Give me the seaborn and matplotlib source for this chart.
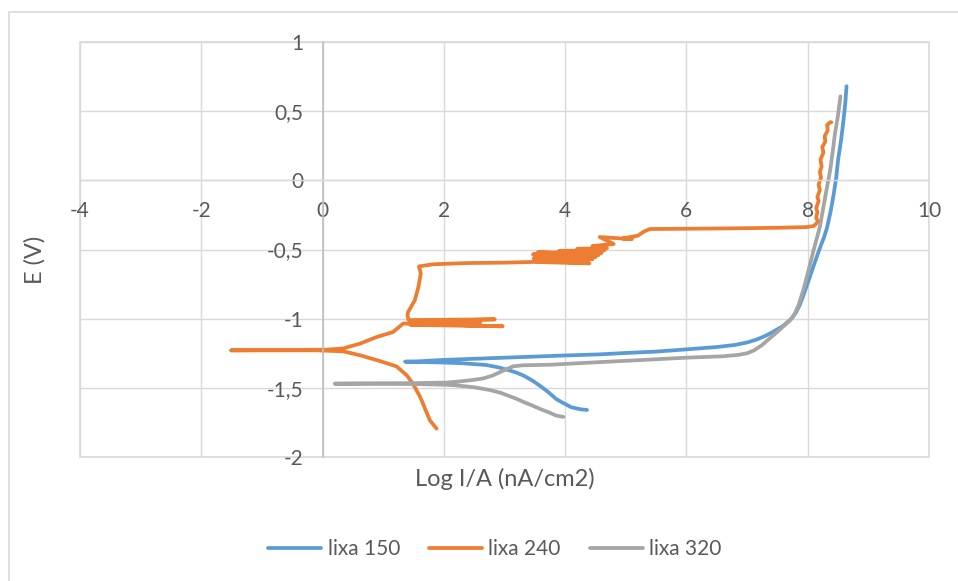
import numpy as np
import pandas as pd
import matplotlib
matplotlib.use("Agg")
import matplotlib.pyplot as plt
import seaborn as sns
from matplotlib.lines import Line2D
from matplotlib.patches import Rectangle
from matplotlib.ticker import FuncFormatter, MultipleLocator

# curves, in sweep order (E rising)
lixa150_logi = [4.36, 4.25, 4.1, 3.97, 3.85, 3.72, 3.6, 3.47, 3.33, 3.2, 3.05, 2.9, 2.7,
                2.3, 1.9, 1.6, 1.36,
                1.6, 2.0, 2.5, 3.0, 3.5, 4.0, 4.57, 5.0, 5.5, 6.0, 6.5, 6.8, 7.0,
                7.15, 7.3, 7.45, 7.6, 7.72, 7.8, 7.87, 7.93, 8.01, 8.09, 8.2, 8.27, 8.32,
                8.38, 8.43, 8.47, 8.5, 8.55, 8.59, 8.62, 8.64]
lixa150_e = [-1.66, -1.655, -1.64, -1.61, -1.58, -1.53, -1.49, -1.45, -1.415, -1.39, -1.37, -1.352, -1.335,
             -1.322, -1.316, -1.313, -1.311,
             -1.308, -1.298, -1.29, -1.282, -1.274, -1.266, -1.258, -1.248, -1.238, -1.222, -1.205, -1.19, -1.172,
             -1.152, -1.125, -1.09, -1.05, -1.005, -0.96, -0.9, -0.83, -0.73, -0.627, -0.49, -0.41, -0.34,
             -0.22, -0.096, 0.02, 0.145, 0.29, 0.434, 0.56, 0.68]

lixa240_logi = [1.88, 1.77, 1.68, 1.61, 1.49, 1.39, 1.22, 0.95, 0.62, 0.34, -0.1, -1.51,
                0.07, 0.34, 0.62, 0.89, 1.16, 1.33,
                2.97, 1.45, 2.6, 1.6, 2.55, 1.5, 2.6, 1.45, 2.84, 1.42, 1.4,
                1.41, 1.52, 1.58, 1.62, 1.59, 1.82, 2.38, 3.0, 3.47,
                4.4, 3.5, 4.35, 3.48, 4.45, 3.5, 4.5, 3.47, 4.55, 3.55, 4.6, 3.9, 4.65,
                4.2, 4.69, 4.45, 4.8, 4.57, 5.1, 4.95, 5.2, 5.3, 5.4, 6.0, 6.77, 7.5, 7.98,
                8.1, 8.17, 8.14, 8.16, 8.14, 8.18, 8.16, 8.2, 8.18, 8.22, 8.2,
                8.23, 8.21, 8.26, 8.24, 8.29, 8.28, 8.33, 8.32, 8.37, 8.39]
lixa240_e = [-1.795, -1.735, -1.64, -1.567, -1.47, -1.41, -1.345, -1.307, -1.265, -1.236, -1.229, -1.229,
             -1.224, -1.215, -1.18, -1.133, -1.097, -1.035,
             -1.055, -1.045, -1.048, -1.04, -1.035, -1.028, -1.025, -1.018, -1.005, -1.01, -0.98,
             -0.952, -0.868, -0.771, -0.673, -0.622, -0.607, -0.598, -0.595, -0.59,
             -0.6, -0.58, -0.585, -0.565, -0.57, -0.55, -0.555, -0.535, -0.54, -0.52, -0.525, -0.51, -0.505,
             -0.495, -0.49, -0.475, -0.46, -0.41, -0.425, -0.42, -0.4, -0.37, -0.352, -0.35, -0.347, -0.343, -0.338,
             -0.33, -0.3, -0.27, -0.23, -0.2, -0.15, -0.12, -0.07, -0.03, 0.02, 0.06,
             0.1, 0.15, 0.2, 0.24, 0.28, 0.32, 0.36, 0.4, 0.42, 0.42]

lixa320_logi = [3.97, 3.85, 3.72, 3.6, 3.47, 3.33, 3.2, 3.05, 2.93, 2.75, 2.48, 2.2, 2.05, 1.5, 0.8, 0.2,
                0.8, 1.5, 2.05, 2.3, 2.5, 2.65, 2.8, 2.93, 3.05, 3.14, 3.3, 3.75, 4.57, 5.3, 6.0, 6.6,
                6.85, 7.0, 7.12, 7.25, 7.38, 7.5, 7.6, 7.7, 7.77, 7.85, 7.93, 8.0, 8.1, 8.2,
                8.28, 8.37, 8.41, 8.45, 8.5, 8.54]
lixa320_e = [-1.71, -1.7, -1.675, -1.655, -1.63, -1.605, -1.58, -1.555, -1.535, -1.515, -1.495, -1.482, -1.478,
             -1.472, -1.47, -1.47,
             -1.468, -1.466, -1.462, -1.452, -1.442, -1.432, -1.412, -1.386, -1.362, -1.345, -1.337, -1.333,
             -1.314, -1.298, -1.282, -1.272,
             -1.262, -1.25, -1.228, -1.19, -1.14, -1.095, -1.055, -1.015, -0.98, -0.9, -0.79, -0.673, -0.5, -0.337,
             -0.14, 0.072, 0.2, 0.34, 0.47, 0.607]

series_names = ["lixa 150", "lixa 240", "lixa 320"]
colors = ["#5B9BD5", "#ED7D31", "#A5A5A5"]

x_ticks = [-4, -2, 0, 2, 4, 6, 8, 10]
y_ticks = [-2, -1.5, -1, -0.5, 0, 0.5, 1]

frames = []
for name, xs, ys in zip(series_names,
                        [lixa150_logi, lixa240_logi, lixa320_logi],
                        [lixa150_e, lixa240_e, lixa320_e]):
    frames.append(pd.DataFrame({"logI": xs, "E": ys, "serie": name}))
df = pd.concat(frames, ignore_index=True)

sns.set_style("white")
plt.rcParams["font.family"] = ["Lato", "DejaVu Sans"]
txt = "#595959"
grid_c = "#D9D9D9"
lw = 2.7

fig = plt.figure(figsize=(9.58, 5.81), dpi=100)
ax = fig.add_axes([80 / 958, 1 - 457 / 581, 849 / 958, 415 / 581])

sns.lineplot(data=df, x="logI", y="E", hue="serie", hue_order=series_names,
             palette=colors, sort=False, estimator=None, legend=False,
             linewidth=lw, solid_capstyle="round", solid_joinstyle="round", ax=ax)

ax.set_xlim(x_ticks[0], x_ticks[-1])
ax.set_ylim(y_ticks[0], y_ticks[-1])
ax.xaxis.set_major_locator(MultipleLocator(2))
ax.yaxis.set_major_locator(MultipleLocator(0.5))
fmt = FuncFormatter(lambda v, p: f"{v:g}".replace(".", ","))
ax.xaxis.set_major_formatter(fmt)
ax.yaxis.set_major_formatter(fmt)
ax.grid(True, color=grid_c, linewidth=1.0)
ax.set_axisbelow(True)

for s in ["top", "right"]:
    ax.spines[s].set_visible(False)
ax.spines["left"].set_position(("data", 0))
ax.spines["bottom"].set_position(("data", 0))
ax.spines["left"].set_color("#BFBFBF")
ax.spines["bottom"].set_color(grid_c)
ax.spines["left"].set_linewidth(1.2)
ax.spines["bottom"].set_linewidth(1.0)
ax.tick_params(axis="both", length=0, labelsize=15, labelcolor=txt)
ax.tick_params(axis="x", pad=15)
ax.tick_params(axis="y", pad=14)

# plot area frame
ax.add_patch(Rectangle((0, 0), 1, 1, transform=ax.transAxes, fill=False,
                       edgecolor=grid_c, linewidth=1.2, clip_on=False, zorder=0.5))

ax.set_xlabel("Log I/A (nA/cm2)", fontsize=17, color=txt)
ax.set_ylabel("E (V)", fontsize=17, color=txt)
ax.xaxis.set_label_coords(0.5, (457 - 479) / 415)
ax.xaxis.label.set_va("center")
ax.yaxis.set_label_coords((35 - 80) / 849, 0.475)
ax.yaxis.label.set_va("center")

handles = [Line2D([], [], color=c, linewidth=lw, solid_capstyle="round") for c in colors]
fig.legend(handles, series_names, loc="center", bbox_to_anchor=(495 / 958, 1 - 549 / 581),
           ncol=3, frameon=False, fontsize=15, labelcolor=txt, handlelength=2.55,
           handletextpad=0.3, columnspacing=1.4)

# outer chart border (right and bottom run off the image)
fig.add_artist(Rectangle((9 / 958, -0.1), 1.2, 1.1 - 12 / 581, transform=fig.transFigure,
                         fill=False, edgecolor=grid_c, linewidth=1.2))

fig.savefig("out.png", dpi=100)
